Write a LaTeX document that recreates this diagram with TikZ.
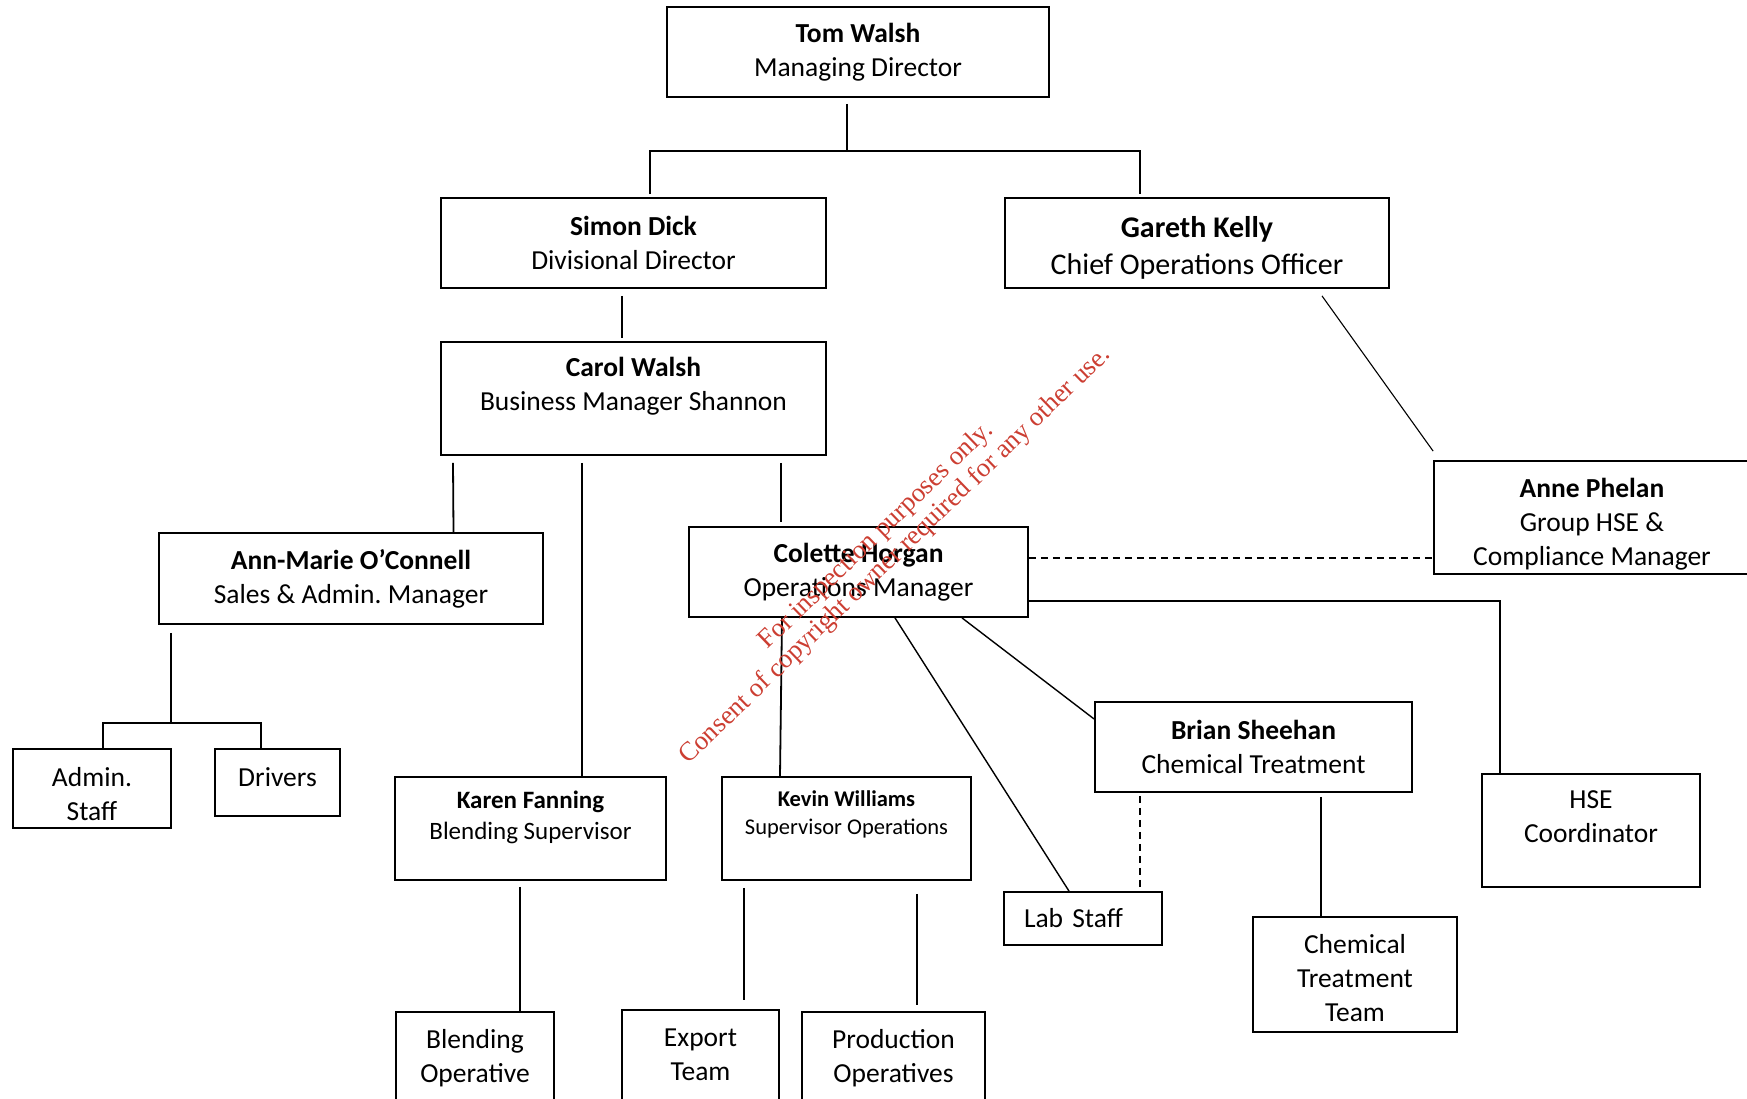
\documentclass[tikz,border=0pt]{standalone}
\usepackage{fontspec}
\setmainfont{Carlito}
\newfontfamily\stampfont{Liberation Serif}
\definecolor{stampred}{RGB}{204,62,50}

\begin{document}
\begin{tikzpicture}[
        x=1pt, y=-1pt,
        box/.style={rectangle, draw, line width=1.8pt, align=center, inner sep=0pt, font=\fontsize{27.5}{34}\selectfont},
        dims/.style 2 args={minimum width=#1, minimum height=#2},
        lift/.style={text depth=#1},
        sink/.style={text height=#1},
        link/.style={draw, line width=1.8pt},
        slant/.style={draw, line width=1.4pt},
        thinlink/.style={draw, line width=1.1pt},
        dashlink/.style={draw, line width=1.4pt, dash pattern=on 7pt off 5pt},
        stamp/.style={text=stampred, font=\stampfont\fontsize{26.7}{27.5}\selectfont, align=center, rotate=44}
        ]
        \useasboundingbox (0,0) rectangle (1747,1099);

        % Directors
        \node[box, dims={382}{90}] (tom) at (858,52) {\textbf{Tom Walsh}\\Managing Director};
        \node[box, dims={385}{90}] (simon) at (633.5,243) {\textbf{Simon Dick}\\Divisional Director};
        \node[box, dims={384}{90}, sink=67, font=\fontsize{30}{37}\selectfont] (gareth) at (1197,243) {\textbf{Gareth Kelly}\\Chief Operations Officer};

        % Managers
        \node[box, dims={385}{113}, lift=28.5] (carol) at (633.5,398.5) {\textbf{Carol Walsh}\\Business Manager Shannon};
        \node[box, dims={384}{91}] (annmarie) at (351,578.5) {\textbf{Ann-Marie O’Connell}\\Sales \& Admin.\ Manager};
        \node[box, dims={339}{90}] (colette) at (858.5,572) {\textbf{Colette Horgan}\\Operations Manager};
        \node[box, dims={316}{113}, sink=100.5] (anne) at (1592,517.5) {\textbf{Anne Phelan}\\Group HSE \&\\Compliance Manager};

        % Supervisors
        \node[box, dims={271}{103}, lift=26, font=\fontsize{25}{31}\selectfont] (karen) at (530.5,828.5) {\textbf{Karen Fanning}\\Blending Supervisor};
        \node[box, dims={249}{103}, lift=32, font=\fontsize{22.5}{28}\selectfont] (kevin) at (846.5,828.5) {\textbf{Kevin Williams}\\Supervisor Operations};
        \node[box, dims={317}{90}] (brian) at (1253.5,747) {\textbf{Brian Sheehan}\\Chemical Treatment};

        % Staff
        \node[box, dims={158}{79}, sink=64.5] (admin) at (92,788.5) {Admin.\\Staff};
        \node[box, dims={125}{67}, lift=11] (drivers) at (277.5,782.5) {Drivers};
        \node[box, dims={158}{53}, text width=118, align=left] (labstaff) at (1083,918.5) {Lab Staff};
        \node[box, dims={204}{115}, sink=94] (ctt) at (1355,974.5) {Chemical\\Treatment\\Team};
        \node[box, dims={218}{113}, lift=27] (hse) at (1591,830.5) {HSE\\Coordinator};
        \node[box, dims={158}{93}] (blendop) at (475,1058.5) {Blending\\Operative};
        \node[box, dims={157}{95}, lift=6.5] (export) at (700.5,1057.5) {Export\\Team};
        \node[box, dims={183}{93}] (prodop) at (893.5,1058.5) {Production\\Operatives};

        % Links
        \coordinate (topbar) at (847,151);
        \draw[link] ([xshift=-11,yshift=-6]tom.south) -- (topbar);
        \draw[link] ([xshift=16.5,yshift=3]simon.north) |- (topbar) -| ([xshift=-57,yshift=3]gareth.north);
        \draw[link] ([xshift=-11.5,yshift=-7]simon.south) -- ([xshift=-11.5,yshift=3]carol.north);

        \draw[link] ([xshift=-180.5,yshift=-7]carol.south) -- ([xshift=102.5]annmarie.north);
        \draw[link] ([xshift=-51.5,yshift=-7]carol.south) -- ([xshift=51.5]karen.north);
        \draw[link] ([xshift=147.5,yshift=-7]carol.south) -- ([xshift=-77.5,yshift=4]colette.north);

        \draw[thinlink] ([xshift=125,yshift=-7]gareth.south) -- ([yshift=9]anne.north west);

        \draw[dashlink] ([yshift=14]colette.east) -- ([yshift=14]colette.east -| anne.west);
        \draw[link] ([yshift=-29]colette.east) -| ([xshift=-91]hse.north);
        \draw[link] ([xshift=-76.5]colette.south) -- ([xshift=-66.5]kevin.north);
        \draw[slant] ([xshift=36.5]colette.south) -- ([xshift=-14]labstaff.north);
        \draw[slant] ([xshift=103.5]colette.south) -- ([yshift=28]brian.west);

        \draw[dashlink] ([xshift=-113.5,yshift=-3]brian.south) -- ([xshift=57]labstaff.north);
        \draw[link] ([xshift=67.5,yshift=-4]brian.south) -- ([xshift=-34]ctt.north);

        \coordinate (adminbar) at (171,723);
        \draw[link] ([xshift=-180,yshift=-8]annmarie.south) -- (adminbar);
        \draw[link] ([xshift=11]admin.north) |- (adminbar) -| ([xshift=-16.5]drivers.north);

        \draw[link] ([xshift=-10.5,yshift=-6]karen.south) -- ([xshift=45]blendop.north);
        \draw[link] ([xshift=-102.5,yshift=-7]kevin.south) -- ([xshift=43.5,yshift=9]export.north);
        \draw[link] ([xshift=70.5,yshift=-13]kevin.south) -- ([xshift=23.5,yshift=6]prodop.north);

        % Watermark
        \node[stamp] (notice) at (886,546) {For inspection purposes only.\\Consent of copyright owner required for any other use.};

    \end{tikzpicture}
\end{document}
